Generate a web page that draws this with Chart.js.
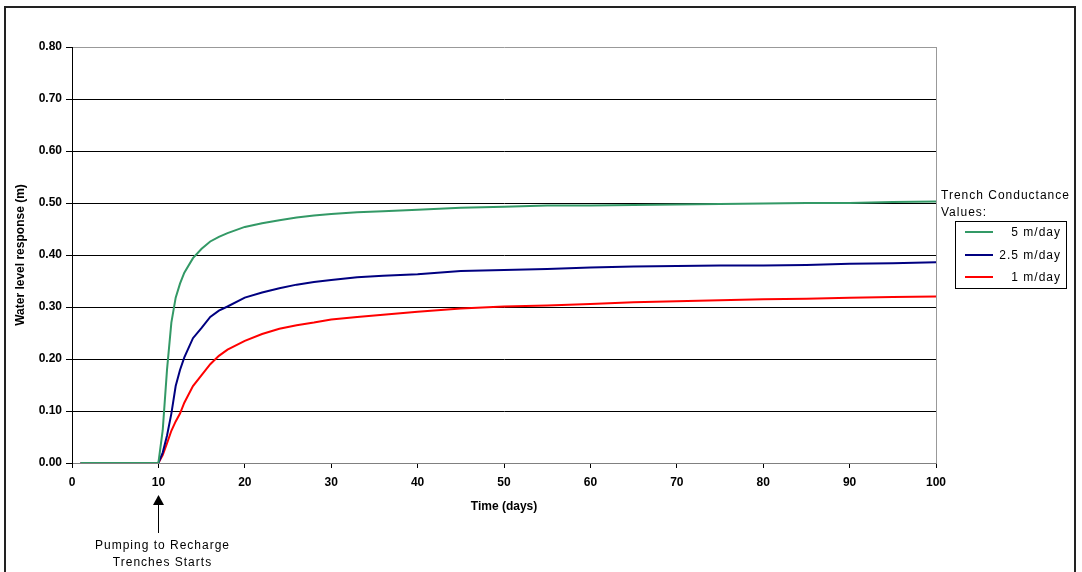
<!DOCTYPE html>
<html>
<head>
<meta charset="utf-8">
<script src="https://cdn.jsdelivr.net/npm/chart.js@4/dist/chart.umd.min.js"></script>
<style>
  html, body { margin: 0; padding: 0; background: #fff; }
  #wrap { width: 1082px; height: 572px; }
</style>
</head>
<body>
<div id="wrap"><canvas id="waterChart" width="1082" height="572"></canvas></div>
<script>
// time in days since start
const days = [1, 10, 10.5, 11, 11.5, 12, 12.5, 13, 14, 15, 16, 17, 18, 20, 22, 24, 26, 28, 30, 33, 36, 40, 45, 50, 55, 60, 65, 70, 75, 80, 85, 90, 95, 100];

// water level response (m) per trench conductance
const level5 = [0, 0, 0.063, 0.18, 0.27, 0.318, 0.345, 0.366, 0.394, 0.412, 0.426, 0.435, 0.442, 0.454, 0.461, 0.467, 0.472, 0.476, 0.479, 0.482, 0.484, 0.487, 0.491, 0.493, 0.495, 0.495, 0.496, 0.497, 0.498, 0.499, 0.5, 0.5, 0.502, 0.503];
const level25 = [0, 0, 0.02, 0.053, 0.095, 0.148, 0.179, 0.203, 0.24, 0.26, 0.281, 0.293, 0.301, 0.318, 0.328, 0.336, 0.343, 0.348, 0.352, 0.357, 0.36, 0.363, 0.369, 0.371, 0.373, 0.376, 0.378, 0.379, 0.38, 0.38, 0.381, 0.383, 0.384, 0.386];
const level1 = [0, 0, 0.015, 0.038, 0.062, 0.08, 0.095, 0.116, 0.148, 0.169, 0.19, 0.206, 0.218, 0.235, 0.248, 0.258, 0.265, 0.27, 0.276, 0.281, 0.285, 0.291, 0.297, 0.301, 0.303, 0.306, 0.309, 0.311, 0.313, 0.315, 0.316, 0.318, 0.319, 0.32];

const seriesLabels = ['5 m/day', '2.5 m/day', '1 m/day'];
const legendTitle = ['Trench Conductance', 'Values:'];
const pumpStartDay = 10;
const pumpNote = ['Pumping to Recharge', 'Trenches Starts'];

const FONT = 'Arial, "Liberation Sans", sans-serif';

function toPoints(vals) {
    return days.map((d, i) => ({ x: d, y: vals[i] }));
}

// outer frame, plot border, legend and the annotation under the x axis
const extras = {
    id: 'extras',
    beforeDraw(chart) {
        const c = chart.ctx;
        c.save();
        c.fillStyle = '#fff';
        c.fillRect(0, 0, chart.width, chart.height);
        c.restore();
    },
    beforeDatasetsDraw(chart) {
        const c = chart.ctx, a = chart.chartArea;
        c.save();
        c.strokeStyle = '#999';
        c.lineWidth = 1;
        c.beginPath();
        c.moveTo(a.right + 0.5, a.top);
        c.lineTo(a.right + 0.5, a.bottom);
        c.stroke();
        c.restore();
    },
    afterDraw(chart) {
        const c = chart.ctx, a = chart.chartArea;
        c.save();
        // frame
        c.strokeStyle = '#222';
        c.lineWidth = 2;
        c.strokeRect(5, 7, 1070, 600);

        // legend
        c.fillStyle = '#000';
        c.font = '12px ' + FONT;
        c.letterSpacing = '1px';
        c.textAlign = 'left';
        c.textBaseline = 'middle';
        c.fillText(legendTitle[0], 941, 196);
        c.fillText(legendTitle[1], 941, 213);
        c.lineWidth = 1;
        c.strokeStyle = '#000';
        c.strokeRect(955.5, 221.5, 111, 67);
        const rows = [232, 255, 277];
        chart.data.datasets.forEach((ds, i) => {
            c.strokeStyle = ds.borderColor;
            c.lineWidth = 2;
            c.beginPath();
            c.moveTo(965, rows[i]);
            c.lineTo(993, rows[i]);
            c.stroke();
            c.textAlign = 'right';
            c.fillText(ds.label, 1061, rows[i] + 1);
        });

        // annotation: arrow at the pumping start
        const px = Math.round(chart.scales.x.getPixelForValue(pumpStartDay)) + 0.5;
        c.fillStyle = '#000';
        c.beginPath();
        c.moveTo(px, 495);
        c.lineTo(px - 5.5, 505);
        c.lineTo(px + 5.5, 505);
        c.closePath();
        c.fill();
        c.strokeStyle = '#000';
        c.lineWidth = 1;
        c.beginPath();
        c.moveTo(px, 505);
        c.lineTo(px, 533);
        c.stroke();
        c.textAlign = 'center';
        c.fillText(pumpNote[0], px + 4, 546);
        c.fillText(pumpNote[1], px + 4, 563);
        c.restore();
    }
};

const ctx = document.getElementById('waterChart').getContext('2d');
const waterChart = new Chart(ctx, {
    type: 'line',
    data: {
        datasets: [
            {
                label: seriesLabels[0],
                data: toPoints(level5),
                borderColor: '#339966',
                borderWidth: 2,
                pointRadius: 0,
                fill: false
            },
            {
                label: seriesLabels[1],
                data: toPoints(level25),
                borderColor: '#000080',
                borderWidth: 2,
                pointRadius: 0,
                fill: false
            },
            {
                label: seriesLabels[2],
                data: toPoints(level1),
                borderColor: '#ff0000',
                borderWidth: 2,
                pointRadius: 0,
                fill: false
            }
        ]
    },
    options: {
        responsive: false,
        animation: false,
        events: [],
        layout: {
            padding: { top: 47, right: 146, bottom: 0, left: 0 }
        },
        plugins: {
            legend: { display: false },
            tooltip: { enabled: false }
        },
        scales: {
            x: {
                type: 'linear',
                min: 0,
                max: 100,
                afterFit: (s) => { s.height = 109; },
                ticks: {
                    stepSize: 10,
                    color: '#000',
                    padding: 7,
                    maxRotation: 0,
                    font: { family: FONT, size: 12, weight: 'bold' }
                },
                grid: {
                    drawOnChartArea: false,
                    tickLength: 5,
                    tickColor: '#000'
                },
                border: { color: '#808080', width: 1 },
                title: {
                    display: true,
                    text: 'Time (days)',
                    color: '#000',
                    font: { family: FONT, size: 12, weight: 'bold' },
                    padding: { top: 4, bottom: 58 }
                }
            },
            y: {
                min: 0,
                max: 0.8,
                afterFit: (s) => { s.width = 72; },
                ticks: {
                    stepSize: 0.1,
                    color: '#000',
                    padding: 4,
                    font: { family: FONT, size: 12, weight: 'bold' },
                    callback: function (value) {
                        return value.toFixed(2);
                    }
                },
                grid: {
                    color: (c) => (c.tick && c.tick.value >= 0.8 ? '#999' : '#000'),
                    tickLength: 6,
                    tickColor: '#000'
                },
                border: { color: '#000', width: 1 },
                title: {
                    display: true,
                    text: 'Water level response (m)',
                    color: '#000',
                    font: { family: FONT, size: 12, weight: 'bold' },
                    padding: { top: 13, bottom: 0 }
                }
            }
        }
    },
    plugins: [extras]
});
</script>
</body>
</html>
